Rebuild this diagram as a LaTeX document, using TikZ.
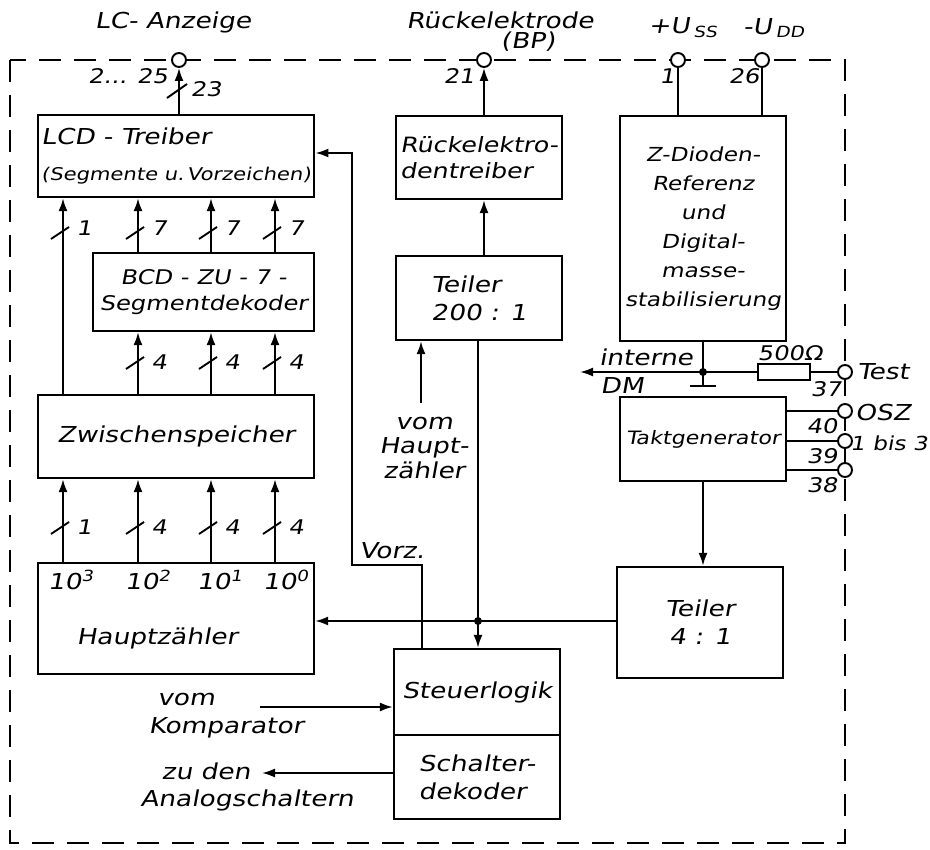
\documentclass[tikz,border=0pt]{standalone}
\usepackage{fontspec}
\newfontfamily\handfont{DejaVu Sans}[FakeSlant=0.18,FakeStretch=1.2]
\usetikzlibrary{positioning,arrows.meta,calc}

\begin{document}
\begin{tikzpicture}[
  x=0.2mm,y=-0.2mm,
  blk/.style={draw,line width=1.3pt,inner sep=2pt,font=\handfont\fontsize{12.5}{16}\selectfont},
  lbl/.style={inner sep=1pt,font=\handfont\fontsize{12.5}{16}\selectfont},
  num/.style={inner sep=1pt,font=\handfont\fontsize{11.5}{13}\selectfont},
  pin/.style={draw,circle,fill=white,line width=1.1pt,minimum size=2.8mm,inner sep=0pt},
  arr/.style={-{Latex[length=2.6mm,width=1.8mm]},line width=1.1pt},
  wire/.style={line width=1.1pt},
  frame/.style={dash pattern=on 4.4mm off 2.6mm,line width=1.2pt},
  dot/.style={circle,fill,inner sep=0pt,minimum size=1.6mm}
]
\useasboundingbox (0,0) rectangle (930,850);

% Gehaeuse
\draw[frame] (10,60) rectangle (845,843);

% Bloecke links
\node[blk,minimum width=55.2mm,minimum height=16.4mm,align=left] (lcd) at (176,156)
  {LCD - Treiber\\[5pt]{\fontsize{10}{12}\selectfont(Segmente u.\,Vorzeichen)}};
\node[blk,minimum width=44.2mm,minimum height=15.6mm,align=center,
  font=\handfont\fontsize{11.5}{15}\selectfont] (bcd) at (203.5,292)
  {BCD - ZU - 7 -\\Segmentdekoder};
\node[blk,minimum width=55.2mm,minimum height=16.6mm] (zw) at (176,436.5) {Zwischenspeicher};
\node[blk,minimum width=55.2mm,minimum height=22.2mm] (hz) at (176,618.5) {};
\node[lbl] (e3) at (71,580) {10\textsuperscript{3}};
\node[lbl] (e2) at (148,580) {10\textsuperscript{2}};
\node[lbl] (e1) at (220,580) {10\textsuperscript{1}};
\node[lbl] (e0) at (286,580) {10\textsuperscript{0}};
\node[lbl] (hzt) at (157,638) {Hauptzähler};

% Bloecke Mitte
\node[blk,minimum width=33.2mm,minimum height=16.6mm,align=left,
  font=\handfont\fontsize{12}{15}\selectfont] (rt) at (479,157.5)
  {Rückelektro-\\dentreiber};
\node[blk,minimum width=33.2mm,minimum height=16.8mm,align=left] (t200) at (479,298)
  {Teiler\\200 : 1\hspace{4mm}};
\node[blk,minimum width=33.2mm,minimum height=17.2mm] (st) at (477,692) {Steuerlogik};
\node[blk,minimum width=33.2mm,minimum height=16.8mm,align=left,below=-1.3pt of st] (sd)
  {Schalter-\\dekoder};

% Bloecke rechts
\node[blk,minimum width=33.2mm,minimum height=45mm,align=center,
  font=\handfont\fontsize{11}{16.5}\selectfont] (zd) at (703,228.5)
  {Z-Dioden-\\Referenz\\und\\Digital-\\masse-\\stabilisierung};
\node[blk,minimum width=33.2mm,minimum height=16.8mm,
  font=\handfont\fontsize{10.5}{14}\selectfont] (tg) at (703,439) {Taktgenerator};
\node[blk,minimum width=33.2mm,minimum height=22.2mm,align=center] (t4) at (700,622.5)
  {Teiler\\4 : 1};

% Anschluesse
\node[pin] (pLC) at (179,60) {};
\node[pin] (pBP) at (484,60) {};
\node[pin] (pUss) at (678,60) {};
\node[pin] (pUdd) at (762,60) {};
\node[pin] (pTest) at (845,372) {};
\node[pin] (pOsz) at (845,411) {};
\node[pin] (pB39) at (845,441) {};
\node[pin] (pB38) at (845,470) {};

\node[lbl] (lcanz) at (173,22) {LC- Anzeige};
\node[lbl] (rueck) at (500,20) {Rückelektrode};
\node[lbl] (bp) at (528,42) {(BP)};
\node[lbl] (uss) at (683,28) {+U\,\textsubscript{SS}};
\node[lbl] (udd) at (774,28) {-U\,\textsubscript{DD}};
\node[num] (n225) at (128,76) {2... 25};
\node[num] (n23) at (206,89) {23};
\node[num] (n21) at (459,76) {21};
\node[num] (n1) at (667,76) {1};
\node[num] (n26) at (744,76) {26};

\draw[arr] (pLC |- lcd.north) -- (pLC.south);
\draw[wire] (167,98) -- (187,84);
\draw[arr] (pBP |- rt.north) -- (pBP.south);
\draw[wire] (pUss |- zd.north) -- (pUss.south);
\draw[wire] (pUdd |- zd.north) -- (pUdd.south);
\draw[arr] (t200.north -| pBP) -- (rt.south -| pBP);

% Busse
\foreach \x/\n [count=\i] in {63/1,138/4,211/4,275/4} {
  \coordinate (bx) at (\x,0);
  \draw[arr] (hz.north -| bx) -- (zw.south -| bx);
  \draw[wire] (\x-12,534) -- (\x+6,522);
  \node[num] (bu\i) at (\x+21,527) {\n};
}
\foreach \x [count=\i] in {138,211,275} {
  \coordinate (bx) at (\x,0);
  \draw[arr] (zw.north -| bx) -- (bcd.south -| bx);
  \draw[wire] (\x-12,369) -- (\x+6,357);
  \node[num] (bm\i) at (\x+21,362) {4};
  \draw[arr] (bcd.north -| bx) -- (lcd.south -| bx);
  \draw[wire] (\x-12,239) -- (\x+6,227);
  \node[num] (bo\i) at (\x+21,228) {7};
}
\coordinate (bx) at (63,0);
\draw[arr] (zw.north -| bx) -- (lcd.south -| bx);
\draw[wire] (51,239) -- (69,227);
\node[num] (bo0) at (84,228) {1};

% Vorzeichen
\coordinate (v1) at (422,565);
\coordinate (v2) at (352,565);
\coordinate (v3) at (352,153);
\draw[arr] (st.north -| v1) -- (v1) -- (v2) -- (v3) -- (v3 -| lcd.east);
\node[lbl] (vorz) at (392,551) {Vorz.};

% Takt
\coordinate (jn) at (478,621);
\draw[arr] (t200.south -| jn) -- (st.north -| jn);
\draw[arr] (t4.west |- jn) -- (hz.east |- jn);
\node[dot] (jdot) at (jn) {};
\draw[arr] (tg.south) -- (tg.south |- t4.north);

\coordinate (vh) at (421,403);
\draw[arr] (vh) -- (vh |- t200.south);
\node[lbl,align=center,font=\handfont\fontsize{12.5}{14}\selectfont] (vhz) at (424,448)
  {vom\\Haupt-\\zähler};

% Digitalmasse
\coordinate (gj) at (703,372);
\coordinate (gnd) at (703,386);
\draw[wire] (zd.south) -- (gnd);
\draw[line width=1.5pt] ($(gnd)+(-13,0)$) -- ($(gnd)+(13,0)$);
\node[dot] (gdot) at (gj) {};
\coordinate (dm) at (580,372);
\draw[arr] (gj) -- (dm);
\node[lbl] (intn) at (646,357) {interne};
\node[lbl] (dmt) at (622,385) {DM};
\node[draw,line width=1.1pt,minimum width=10.4mm,minimum height=3.2mm,inner sep=0pt] (res) at (784,372) {};
\draw[wire] (gj) -- (res.west);
\draw[wire] (res.east) -- (pTest.west);
\node[num] (ohm) at (790,353) {500Ω};
\node[lbl] (test) at (883,372) {Test};
\node[num] (n37) at (826,389) {37};

\draw[wire] (tg.east |- pOsz) -- (pOsz.west);
\draw[wire] (tg.east |- pB39) -- (pB39.west);
\draw[wire] (tg.east |- pB38) -- (pB38.west);
\node[num] (n40) at (822,426) {40};
\node[num] (n39) at (822,456) {39};
\node[num] (n38) at (822,485) {38};
\node[lbl] (osz) at (883,413) {OSZ};
\node[num,font=\handfont\fontsize{11}{13}\selectfont] (bis) at (889,443) {1 bis 3};

% Komparator / Analogschalter
\coordinate (komp) at (260,707);
\draw[arr] (komp) -- (komp -| st.west);
\node[lbl] (vk1) at (186,700) {vom};
\node[lbl] (vk2) at (226,728) {Komparator};
\coordinate (ana) at (262,773);
\draw[arr] (ana -| sd.west) -- (ana);
\node[lbl] (za1) at (206,771) {zu den};
\node[lbl] (za2) at (247,800) {Analogschaltern};
\end{tikzpicture}
\end{document}
